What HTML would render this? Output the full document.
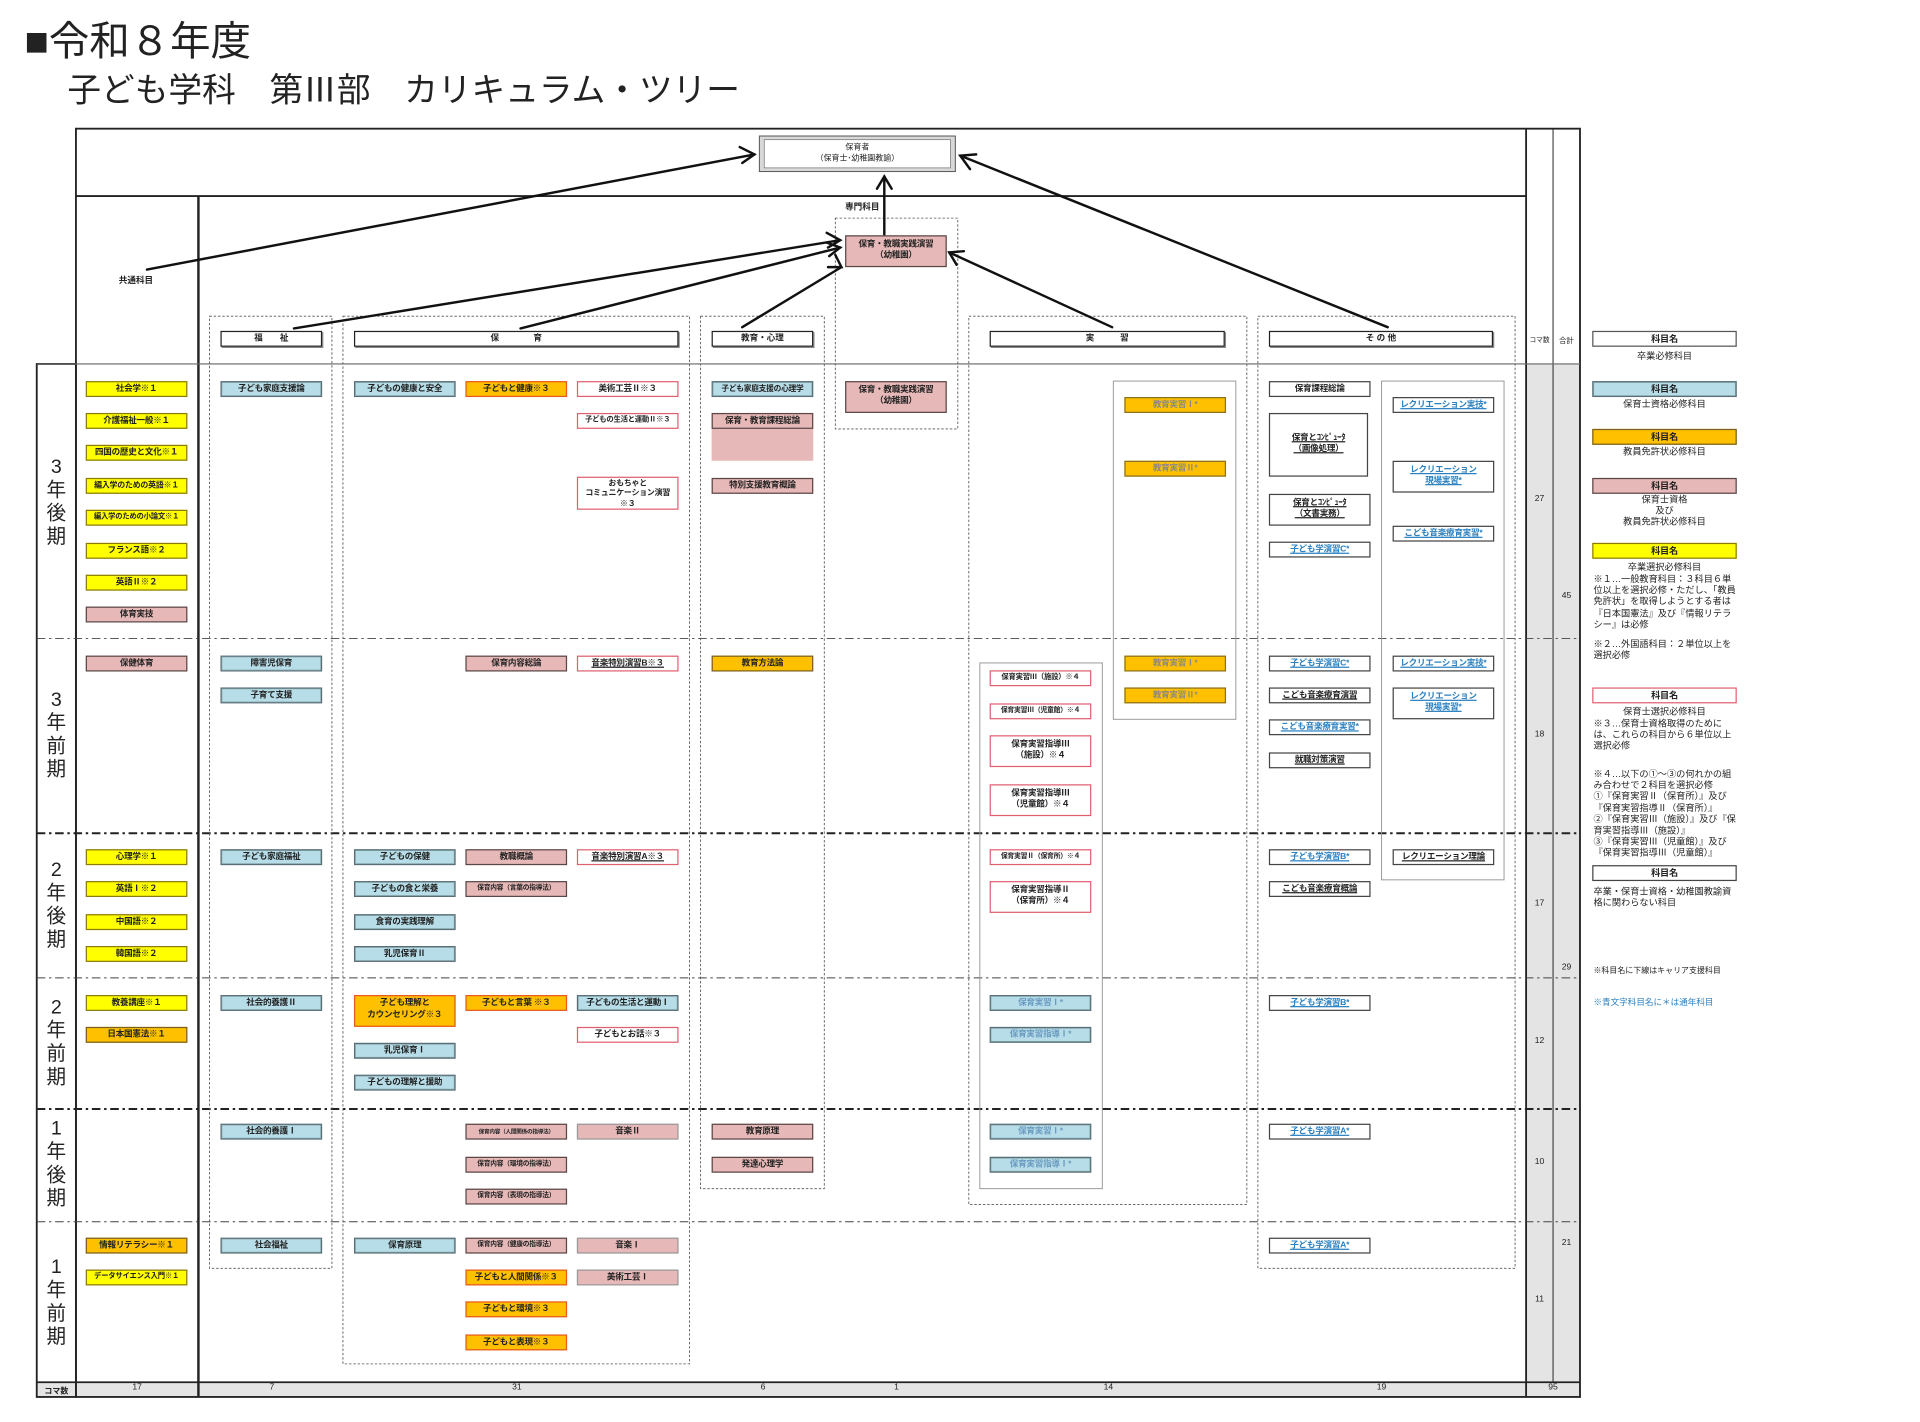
<!DOCTYPE html>
<html><head><meta charset="utf-8">
<style>
html,body{margin:0;padding:0;background:#fff;width:1920px;height:1422px;overflow:hidden}
#w{position:absolute;left:0;top:0;width:1552px;height:1150px;transform:scale(1.2248,1.2254);transform-origin:0 0;font-family:"Liberation Sans","Noto Sans CJK JP",sans-serif;color:#222}
.a{position:absolute}
.b{position:absolute;width:81px;height:11px;border:1px solid #555;font-size:7px;line-height:11px;text-align:center;white-space:nowrap;overflow:hidden;font-weight:bold;letter-spacing:-0.2px}
.Y{background:#ffff00;border-color:#8a7a10}
.C{background:#b7dde8;border:1.5px solid #5a6e78;box-shadow:inset 0 0 0 0.5px #8aa}
.O{background:#ffc000;border:1.5px solid #e85a20}
.Od{background:#ffc000;border:1.5px solid #7a6020}
.P{background:#e6b8b7;border:1.5px solid #5a4848}
.Pl{background:#e6b8b7;border:1px solid #999}
.R{background:#fff;border:1.5px solid #e06070}
.W{background:#fff;border:1px solid #444}
.bl{color:#2a80c0;text-decoration:underline}
.u{text-decoration:underline}
.g{color:#8a8a80}
.gb{color:#6a9ac0}
.h{position:absolute;height:11px;border:1.5px solid #222;box-shadow:1px 1px 0 #888;background:#fff;font-size:7px;line-height:11px;text-align:center;font-weight:bold}
.sem{position:absolute;left:30px;width:32px;font-size:16px;line-height:19px;text-align:center}
.n{position:absolute;font-size:7px;text-align:center;width:22px}
.lg{position:absolute;left:1300px;width:118px;font-size:7.5px;line-height:9px;text-align:center}
.lt{position:absolute;left:1301px;width:118px;font-size:7.5px;line-height:9.2px}
</style></head><body><div id="w">
<div class="a" style="left:20px;top:15px;font-size:33px;line-height:38px">■令和８年度</div>
<div class="a" style="left:55px;top:57px;font-size:27.5px;line-height:34px">子ども学科　第Ⅲ部　カリキュラム・ツリー</div>

<svg class="a" style="left:0;top:0" width="1552" height="1150" viewBox="0 0 1552 1150">
<rect x="1246" y="297" width="44" height="831" fill="#e4e4e4"/>
<rect x="30" y="1128" width="1260" height="12" fill="#e4e4e4"/>
<g fill="none" stroke="#222">
<rect x="62" y="105" width="1228" height="1035" stroke-width="1.5"/>
<line x1="62" y1="160" x2="1246" y2="160" stroke-width="1.5"/>
<line x1="162" y1="160" x2="162" y2="1140" stroke-width="2"/>
<line x1="1246" y1="105" x2="1246" y2="1140" stroke-width="1.5"/>
<line x1="1268" y1="105" x2="1268" y2="1128" stroke-width="0.8"/>
<rect x="30" y="297" width="32" height="843" stroke-width="1.5"/>
<line x1="30" y1="297" x2="1290" y2="297" stroke="#666"/>
<line x1="30" y1="1128" x2="1290" y2="1128" stroke-width="1.5"/>
</g>
<g stroke="#444" stroke-dasharray="7 3 2 3" stroke-width="0.8">
<line x1="30" y1="521" x2="1290" y2="521"/>
<line x1="30" y1="798" x2="1290" y2="798"/>
<line x1="30" y1="997" x2="1290" y2="997"/>
</g>
<g stroke="#222" stroke-dasharray="7 3 2 3" stroke-width="1.6">
<line x1="30" y1="680" x2="1290" y2="680"/>
<line x1="30" y1="905" x2="1290" y2="905"/>
</g>
<g fill="none" stroke="#555" stroke-dasharray="2 1.5" stroke-width="0.7">
<rect x="171" y="258" width="100" height="777"/>
<rect x="280" y="258" width="283" height="855"/>
<rect x="572" y="258" width="101" height="712"/>
<rect x="682" y="178" width="100" height="172"/>
<rect x="791" y="258" width="227" height="725"/>
<rect x="1027" y="258" width="210" height="777"/>
</g>
<g fill="none" stroke="#999" stroke-width="0.8">
<rect x="909" y="311" width="100" height="276"/>
<rect x="800" y="541" width="100" height="429"/>
<rect x="1128" y="311" width="100" height="407"/>
</g>
<rect x="620" y="111" width="160" height="29" fill="#d8d8d8" stroke="#555" stroke-width="0.8"/>
<rect x="624" y="114" width="152" height="23" fill="#fff" stroke="#777" stroke-width="0.6"/>
<g stroke="#111" stroke-width="2" fill="none" stroke-linecap="round">
<line x1="120" y1="220" x2="616" y2="126"/><polyline points="604,120 616,126 606,133"/>
<line x1="722" y1="192" x2="722" y2="144"/><polyline points="716,154 722,144 728,154"/>
<line x1="1133" y1="267" x2="784" y2="127"/><polyline points="792,138 784,127 797,126"/>
<line x1="240" y1="268" x2="686" y2="196"/><polyline points="675,190 686,196 676,202"/>
<line x1="425" y1="268" x2="686" y2="202"/><polyline points="675,198 686,202 677,209"/>
<line x1="606" y1="267" x2="687" y2="218"/><polyline points="676,218 687,218 682,208"/>
<line x1="908" y1="267" x2="775" y2="206"/><polyline points="781,216 775,206 787,205"/>
</g>
</svg>

<div class="a" style="left:620px;top:116px;width:160px;font-size:6.5px;line-height:9px;text-align:center">保育者<br>（保育士･幼稚園教諭）</div>
<div class="a" style="left:690px;top:164px;font-size:7px;font-weight:bold">専門科目</div>
<div class="a" style="left:97px;top:224px;font-size:7px;font-weight:bold">共通科目</div>
<div class="b P" style="left:690px;top:192px;line-height:9px;padding-top:2px;box-sizing:content-box;height:22px">保育・教職実践演習<br>（幼稚園）</div>

<div class="h" style="left:180px;top:270px;width:81px">福　　祉</div>
<div class="h" style="left:289px;top:270px;width:263px">保　　　　育</div>
<div class="h" style="left:581px;top:270px;width:81px">教育・心理</div>
<div class="h" style="left:808px;top:270px;width:190px">実　　　習</div>
<div class="h" style="left:1036px;top:270px;width:181px">そ の 他</div>
<div class="n" style="left:1246px;top:273px;font-size:5.5px">コマ数</div>
<div class="n" style="left:1268px;top:273px;font-size:6px">合計</div>

<div class="sem" style="top:372px">3<br>年<br>後<br>期</div>
<div class="sem" style="top:562px">3<br>年<br>前<br>期</div>
<div class="sem" style="top:701px">2<br>年<br>後<br>期</div>
<div class="sem" style="top:813px">2<br>年<br>前<br>期</div>
<div class="sem" style="top:912px">1<br>年<br>後<br>期</div>
<div class="sem" style="top:1025px">1<br>年<br>前<br>期</div>

<div class="b Y" style="left:70px;top:311px">社会学※１</div>
<div class="b Y" style="left:70px;top:337px">介護福祉一般※１</div>
<div class="b Y" style="left:70px;top:363px">四国の歴史と文化※１</div>
<div class="b Y" style="left:70px;top:390px;font-size:6.5px">編入学のための英語※１</div>
<div class="b Y" style="left:70px;top:416px;font-size:6px">編入学のための小論文※１</div>
<div class="b Y" style="left:70px;top:443px">フランス語※２</div>
<div class="b Y" style="left:70px;top:469px">英語Ⅱ※２</div>
<div class="b P" style="left:70px;top:495px">体育実技</div>
<div class="b P" style="left:70px;top:535px">保健体育</div>
<div class="b Y" style="left:70px;top:693px">心理学※１</div>
<div class="b Y" style="left:70px;top:719px">英語Ⅰ※２</div>
<div class="b Y" style="left:70px;top:746px">中国語※２</div>
<div class="b Y" style="left:70px;top:772px">韓国語※２</div>
<div class="b Y" style="left:70px;top:812px">教養講座※１</div>
<div class="b Od" style="left:70px;top:838px">日本国憲法※１</div>
<div class="b Od" style="left:70px;top:1010px">情報リテラシー※１</div>
<div class="b Y" style="left:70px;top:1036px;font-size:6px">データサイエンス入門※１</div>

<div class="b C" style="left:180px;top:311px">子ども家庭支援論</div>
<div class="b C" style="left:180px;top:535px">障害児保育</div>
<div class="b C" style="left:180px;top:561px">子育て支援</div>
<div class="b C" style="left:180px;top:693px">子ども家庭福祉</div>
<div class="b C" style="left:180px;top:812px">社会的養護Ⅱ</div>
<div class="b C" style="left:180px;top:917px">社会的養護Ⅰ</div>
<div class="b C" style="left:180px;top:1010px">社会福祉</div>

<div class="b C" style="left:289px;top:311px">子どもの健康と安全</div>
<div class="b C" style="left:289px;top:693px">子どもの保健</div>
<div class="b C" style="left:289px;top:719px">子どもの食と栄養</div>
<div class="b C" style="left:289px;top:746px">食育の実践理解</div>
<div class="b C" style="left:289px;top:772px">乳児保育Ⅱ</div>
<div class="b O" style="left:289px;top:812px;line-height:10px;padding-top:1px;height:23px">子ども理解と<br>カウンセリング※３</div>
<div class="b C" style="left:289px;top:851px">乳児保育Ⅰ</div>
<div class="b C" style="left:289px;top:877px">子どもの理解と援助</div>
<div class="b C" style="left:289px;top:1010px">保育原理</div>
<div class="b O" style="left:380px;top:311px">子どもと健康※３</div>
<div class="b P" style="left:380px;top:535px">保育内容総論</div>
<div class="b P" style="left:380px;top:693px">教職概論</div>
<div class="b P" style="left:380px;top:719px;font-size:5.5px">保育内容（言葉の指導法）</div>
<div class="b O" style="left:380px;top:812px">子どもと言葉 ※３</div>
<div class="b P" style="left:380px;top:917px;font-size:4.6px">保育内容（人間関係の指導法）</div>
<div class="b P" style="left:380px;top:944px;font-size:5.5px">保育内容（環境の指導法）</div>
<div class="b P" style="left:380px;top:970px;font-size:5.5px">保育内容（表現の指導法）</div>
<div class="b P" style="left:380px;top:1010px;font-size:5.5px">保育内容（健康の指導法）</div>
<div class="b O" style="left:380px;top:1036px">子どもと人間関係※３</div>
<div class="b O" style="left:380px;top:1062px">子どもと環境※３</div>
<div class="b O" style="left:380px;top:1089px">子どもと表現※３</div>
<div class="b R" style="left:471px;top:311px">美術工芸Ⅱ※３</div>
<div class="b R" style="left:471px;top:337px;font-size:6px">子どもの生活と運動Ⅱ※３</div>
<div class="b R" style="left:471px;top:389px;line-height:8.5px;font-size:6.5px;padding-top:0.5px;height:24.5px">おもちゃと<br>コミュニケーション演習<br>※３</div>
<div class="b R u" style="left:471px;top:535px">音楽特別演習B※３</div>
<div class="b R u" style="left:471px;top:693px">音楽特別演習A※３</div>
<div class="b C" style="left:471px;top:812px">子どもの生活と運動Ⅰ</div>
<div class="b R" style="left:471px;top:838px">子どもとお話※３</div>
<div class="b Pl" style="left:471px;top:917px">音楽Ⅱ</div>
<div class="b Pl" style="left:471px;top:1010px">音楽Ⅰ</div>
<div class="b Pl" style="left:471px;top:1036px">美術工芸Ⅰ</div>

<div class="b C" style="left:581px;top:311px;font-size:6.3px">子ども家庭支援の心理学</div>
<div class="a" style="left:581px;top:350px;width:83px;height:26px;background:#e6b8b7"></div>
<div class="b P" style="left:581px;top:337px">保育・教育課程総論</div>
<div class="b P" style="left:581px;top:390px">特別支援教育概論</div>
<div class="b Od" style="left:581px;top:535px">教育方法論</div>
<div class="b P" style="left:581px;top:917px">教育原理</div>
<div class="b P" style="left:581px;top:944px">発達心理学</div>

<div class="b P" style="left:690px;top:311px;line-height:9px;padding-top:2px;height:22px">保育・教職実践演習<br>（幼稚園）</div>

<div class="b R" style="left:808px;top:547px;font-size:6px">保育実習Ⅲ（施設）※４</div>
<div class="b R" style="left:808px;top:574px;font-size:5.6px">保育実習Ⅲ（児童館）※４</div>
<div class="b R" style="left:808px;top:600px;line-height:9px;padding-top:2px;height:22px">保育実習指導Ⅲ<br>（施設）※４</div>
<div class="b R" style="left:808px;top:640px;line-height:9px;padding-top:2px;height:22px">保育実習指導Ⅲ<br>（児童館）※４</div>
<div class="b R" style="left:808px;top:693px;font-size:5.6px">保育実習Ⅱ（保育所）※４</div>
<div class="b R" style="left:808px;top:719px;line-height:9px;padding-top:2px;height:22px">保育実習指導Ⅱ<br>（保育所）※４</div>
<div class="b C gb" style="left:808px;top:812px">保育実習Ⅰ*</div>
<div class="b C gb" style="left:808px;top:838px">保育実習指導Ⅰ*</div>
<div class="b C gb" style="left:808px;top:917px">保育実習Ⅰ*</div>
<div class="b C gb" style="left:808px;top:944px">保育実習指導Ⅰ*</div>
<div class="b Od g" style="left:918px;top:324px;border-color:#8a7020">教育実習Ⅰ*</div>
<div class="b Od g" style="left:918px;top:376px;border-color:#8a7020">教育実習Ⅱ*</div>
<div class="b Od g" style="left:918px;top:535px;border-color:#8a7020">教育実習Ⅰ*</div>
<div class="b Od g" style="left:918px;top:561px;border-color:#8a7020">教育実習Ⅱ*</div>

<div class="b W" style="left:1036px;top:311px">保育課程総論</div>
<div class="b W u" style="left:1036px;top:337px;line-height:9px;box-sizing:border-box;padding-top:15px;height:52px">保育とｺﾝﾋﾟｭｰﾀ<br>（画像処理）</div>
<div class="b W u" style="left:1036px;top:403px;line-height:9px;padding-top:2px;height:22px">保育とｺﾝﾋﾟｭｰﾀ<br>（文書実務）</div>
<div class="b W bl" style="left:1036px;top:442px">子ども学演習C*</div>
<div class="b W bl" style="left:1036px;top:535px">子ども学演習C*</div>
<div class="b W u" style="left:1036px;top:561px">こども音楽療育演習</div>
<div class="b W bl" style="left:1036px;top:587px">こども音楽療育実習*</div>
<div class="b W u" style="left:1036px;top:614px">就職対策演習</div>
<div class="b W bl" style="left:1036px;top:693px">子ども学演習B*</div>
<div class="b W u" style="left:1036px;top:719px">こども音楽療育概論</div>
<div class="b W bl" style="left:1036px;top:812px">子ども学演習B*</div>
<div class="b W bl" style="left:1036px;top:917px">子ども学演習A*</div>
<div class="b W bl" style="left:1036px;top:1010px">子ども学演習A*</div>
<div class="b W bl" style="left:1137px;top:324px">レクリエーション実技*</div>
<div class="b W bl" style="left:1137px;top:376px;line-height:9px;padding-top:2px;height:22px">レクリエーション<br>現場実習*</div>
<div class="b W bl" style="left:1137px;top:429px">こども音楽療育実習*</div>
<div class="b W bl" style="left:1137px;top:535px">レクリエーション実技*</div>
<div class="b W bl" style="left:1137px;top:561px;line-height:9px;padding-top:2px;height:22px">レクリエーション<br>現場実習*</div>
<div class="b W u" style="left:1137px;top:693px">レクリエーション理論</div>

<div class="n" style="left:1246px;top:404px">27</div>
<div class="n" style="left:1246px;top:596px">18</div>
<div class="n" style="left:1246px;top:734px">17</div>
<div class="n" style="left:1246px;top:846px">12</div>
<div class="n" style="left:1246px;top:945px">10</div>
<div class="n" style="left:1246px;top:1057px">11</div>
<div class="n" style="left:1268px;top:483px">45</div>
<div class="n" style="left:1268px;top:786px">29</div>
<div class="n" style="left:1268px;top:1011px">21</div>
<div class="a" style="left:30px;top:1129px;width:32px;font-size:6.5px;text-align:center;font-weight:bold">コマ数</div>
<div class="n" style="left:101px;top:1129px">17</div>
<div class="n" style="left:211px;top:1129px">7</div>
<div class="n" style="left:411px;top:1129px">31</div>
<div class="n" style="left:612px;top:1129px">6</div>
<div class="n" style="left:721px;top:1129px">1</div>
<div class="n" style="left:894px;top:1129px">14</div>
<div class="n" style="left:1117px;top:1129px">19</div>
<div class="n" style="left:1257px;top:1129px">95</div>

<div class="b W" style="left:1300px;top:270px;width:116px;border:1.5px solid #555;font-size:7.5px">科目名</div>
<div class="lg" style="top:286px">卒業必修科目</div>
<div class="b C" style="left:1300px;top:311px;width:116px;font-size:7.5px">科目名</div>
<div class="lg" style="top:325px">保育士資格必修科目</div>
<div class="b Od" style="left:1300px;top:350px;width:116px;font-size:7.5px">科目名</div>
<div class="lg" style="top:364px">教員免許状必修科目</div>
<div class="b P" style="left:1300px;top:390px;width:116px;font-size:7.5px">科目名</div>
<div class="lg" style="top:403px">保育士資格<br>及び<br>教員免許状必修科目</div>
<div class="b Y" style="left:1300px;top:443px;width:116px;font-size:7.5px">科目名</div>
<div class="lg" style="top:458px">卒業選択必修科目</div>
<div class="lt" style="top:468px">※１…一般教育科目：３科目６単位以上を選択必修・ただし、「教員免許状」を取得しようとする者は『日本国憲法』及び『情報リテラシー』は必修</div>
<div class="lt" style="top:521px">※２…外国語科目：２単位以上を選択必修</div>
<div class="b R" style="left:1300px;top:561px;width:116px;font-size:7.5px">科目名</div>
<div class="lg" style="top:576px">保育士選択必修科目</div>
<div class="lt" style="top:586px">※３…保育士資格取得のためには、これらの科目から６単位以上選択必修</div>
<div class="lt" style="top:627px;height:78px;overflow:hidden">※４…以下の①～③の何れかの組み合わせで２科目を選択必修<br>①『保育実習Ⅱ（保育所）』及び『保育実習指導Ⅱ（保育所）』<br>②『保育実習Ⅲ（施設）』及び『保育実習指導Ⅲ（施設）』<br>③『保育実習Ⅲ（児童館）』及び『保育実習指導Ⅲ（児童館）』</div>
<div class="b W" style="left:1300px;top:706px;width:116px;font-size:7.5px">科目名</div>
<div class="lt" style="top:723px">卒業・保育士資格・幼稚園教諭資格に関わらない科目</div>
<div class="lt" style="top:788px;font-size:6.5px">※科目名に下線はキャリア支援科目</div>
<div class="lt" style="top:814px;font-size:7px;color:#2a80c0">※青文字科目名に＊は通年科目</div>
</div></body></html>
